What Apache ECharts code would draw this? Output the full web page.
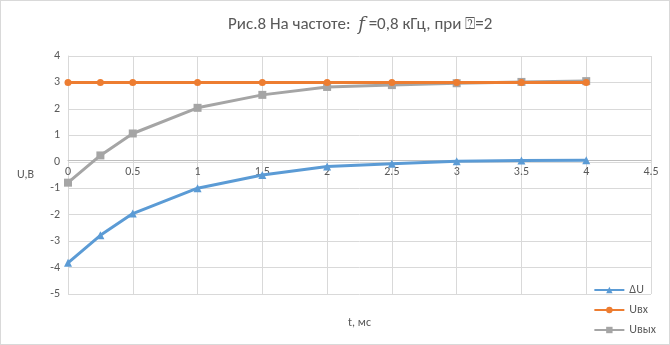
<!DOCTYPE html>
<html><head><meta charset="utf-8">
<script src="https://cdn.jsdelivr.net/npm/echarts@6/dist/echarts.min.js"></script>
<style>html,body{margin:0;padding:0;background:#fff}#c{width:670px;height:345px;box-sizing:border-box;border:1px solid #d9d9d9}</style>
</head><body><div id="c"></div>
<script>
const tValues = [0, 0.25, 0.5, 1, 1.5, 2, 2.5, 3, 3.5, 4];
const dU = [-3.82, -2.78, -1.96, -1.0, -0.5, -0.18, -0.07, 0.02, 0.05, 0.06];
const uIn = [3, 3, 3, 3, 3, 3, 3, 3, 3, 3];
const uOut = [-0.79, 0.24, 1.07, 2.04, 2.53, 2.83, 2.9, 2.97, 3.02, 3.05];
const seriesNames = ['ΔU', 'Uвх', 'Uвых'];
const titleText = 'Рис.8 На частоте:  {i|f} =0,8 кГц, при ⍰=2';

const pair = arr => tValues.map((t, i) => [t, arr[i]]);
const chart = echarts.init(document.getElementById('c'), null, {renderer: 'canvas'});
const txt = '#595959', gridC = '#d9d9d9';
const font = 'Calibri, Carlito, "Liberation Sans", "DejaVu Sans", sans-serif';
const gridTop = 55, gridBottom = 50, yMin = -5, yMax = 4;
const plotH = 345 - gridTop - gridBottom;
const zeroOffset = -plotH * (0 - yMin) / (yMax - yMin);
chart.setOption({
  animation: false,
  textStyle: {fontFamily: font},
  title: {
    text: titleText, left: 222, top: 10,
    textStyle: {color: txt, fontSize: 17, fontWeight: 'normal', fontFamily: font,
      rich: {i: {fontFamily: '"DejaVu Serif", serif', fontStyle: 'italic', fontSize: 18, color: txt}}}
  },
  grid: {left: 67, right: 18, top: gridTop, bottom: gridBottom, containLabel: false, outerBoundsMode: 'none'},
  legend: {
    orient: 'vertical', right: 8, bottom: 3, itemWidth: 30, itemHeight: 8, itemGap: 8,
    textStyle: {color: txt, fontSize: 12},
    data: seriesNames
  },
  xAxis: {
    type: 'value', min: 0, max: 4.5, interval: 0.5, position: 'bottom', offset: zeroOffset,
    name: 't, мс', nameLocation: 'middle', nameGap: 156,
    nameTextStyle: {color: txt, fontSize: 12},
    axisLine: {onZero: false, lineStyle: {color: '#bfbfbf'}},
    axisTick: {show: false},
    axisLabel: {color: txt, fontSize: 12, margin: 5},
    splitLine: {show: true, lineStyle: {color: gridC}}
  },
  yAxis: {
    type: 'value', min: yMin, max: yMax, interval: 1,
    name: 'U,B', nameLocation: 'middle', nameGap: 34, nameRotate: 0,
    nameTextStyle: {color: txt, fontSize: 12, padding: [4, 0, 0, 0]},
    axisLine: {show: true, onZero: false, lineStyle: {color: gridC}},
    axisTick: {show: false},
    axisLabel: {color: txt, fontSize: 12, margin: 8},
    splitLine: {show: true, lineStyle: {color: gridC}}
  },
  series: [
    {name: seriesNames[0], type: 'line', data: pair(dU), symbol: 'triangle', symbolSize: 8,
     lineStyle: {width: 3, color: '#5b9bd5'}, itemStyle: {color: '#5b9bd5'}, z: 3},
    {name: seriesNames[1], type: 'line', data: pair(uIn), symbol: 'circle', symbolSize: 7,
     lineStyle: {width: 3, color: '#ed7d31'}, itemStyle: {color: '#ed7d31'}, z: 4},
    {name: seriesNames[2], type: 'line', data: pair(uOut), symbol: 'rect', symbolSize: 8,
     lineStyle: {width: 3, color: '#a5a5a5'}, itemStyle: {color: '#a5a5a5'}, z: 2}
  ]
});
</script></body></html>
